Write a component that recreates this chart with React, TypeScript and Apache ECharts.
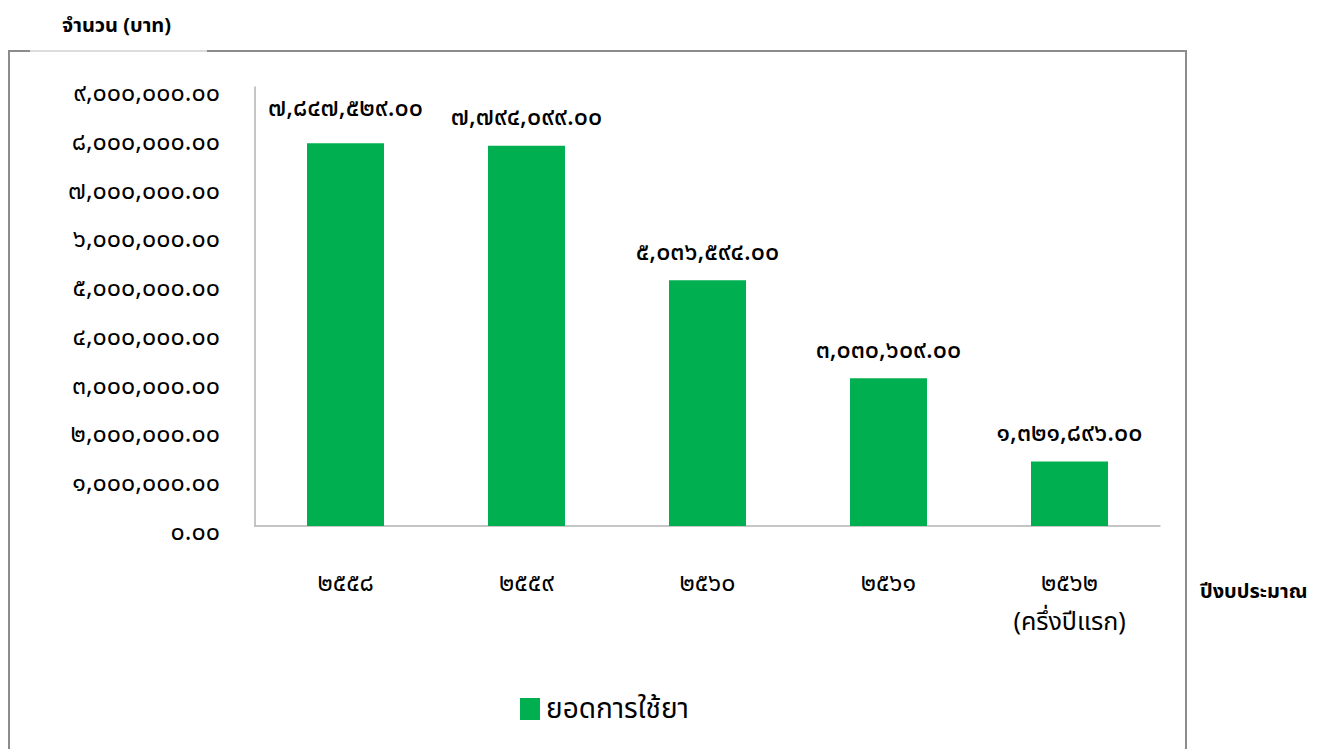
import React, { useEffect, useRef } from "react";
import * as echarts from "echarts";

const categories = ["๒๕๕๘", "๒๕๕๙", "๒๕๖๐", "๒๕๖๑", "๒๕๖๒\n(ครึ่งปีแรก)"];
const usageValues = [7847529, 7794099, 5036594, 3030609, 1321896];
const seriesName = "ยอดการใช้ยา";
const yTitle = "จำนวน (บาท)";
const xTitle = "ปีงบประมาณ";
const yMin = 0;
const yMax = 9000000;
const yStep = 1000000;

const THAI_DIGITS = "๐๑๒๓๔๕๖๗๘๙";
function toThai(s: string): string {
  return s.replace(/[0-9]/g, (d) => THAI_DIGITS[Number(d)]);
}
function fmt(v: number): string {
  const s = v.toLocaleString("en-US", { minimumFractionDigits: 2, maximumFractionDigits: 2 });
  return toThai(s);
}

const FONT = "Tahoma, 'Noto Sans Thai', 'Noto Sans', 'DejaVu Sans', sans-serif";

export default function App() {
  const ref = useRef<HTMLDivElement>(null);
  useEffect(() => {
    document.body.style.margin = "0";
    if (!ref.current) return;
    const chart = echarts.init(ref.current, undefined, { renderer: "svg" });
    chart.setOption({
      animation: false,
      backgroundColor: "#ffffff",
      grid: { left: 255, top: 87, right: 165, bottom: 223, containLabel: false },
      legend: {
        left: 515,
        top: 690,
        itemWidth: 20,
        itemHeight: 22,
        itemGap: 10,
        icon: "rect",
        textStyle: { fontSize: 28, fontFamily: FONT, color: "#000", padding: [0, 0, 0, 1] },
        data: [seriesName],
      },
      xAxis: {
        type: "category",
        data: categories,
        axisLine: { lineStyle: { color: "#b3b3b3", width: 1.5 } },
        axisTick: { show: false },
        axisLabel: {
          margin: 37,
          fontSize: 25,
          lineHeight: 39,
          fontFamily: FONT,
          color: "#000",
          verticalAlign: "top",
        },
      },
      yAxis: {
        type: "value",
        min: yMin,
        max: yMax,
        interval: yStep,
        splitLine: { show: false },
        axisLine: { show: true, lineStyle: { color: "#b3b3b3", width: 1.5 } },
        axisTick: { show: false },
        axisLabel: {
          margin: 35,
          fontSize: 25,
          fontFamily: FONT,
          color: "#000",
          verticalAlign: "top",
          lineHeight: 12,
          formatter: (v: number) => fmt(v),
        },
      },
      series: [
        {
          name: seriesName,
          type: "bar",
          barWidth: 77,
          itemStyle: { color: "#00b050" },
          data: usageValues.map((v, i) =>
            i === 0 ? { value: v, label: { offset: [0, -7] } } : v
          ),
          label: {
            show: true,
            position: "top",
            distance: 16,
            fontSize: 25,
            fontWeight: 500,
            fontFamily: FONT,
            color: "#000",
            formatter: (p: any) => fmt(p.value),
          },
        },
      ],
      graphic: [
        {
          type: "rect",
          shape: { x: 9, y: 51, width: 1177, height: 760 },
          style: { fill: "none", stroke: "#8c8c8c", lineWidth: 2 },
          silent: true,
        },
        {
          type: "line",
          shape: { x1: 30, y1: 51, x2: 207, y2: 51 },
          style: { stroke: "#dcdcdc", lineWidth: 2 },
          silent: true,
        },
        {
          type: "text",
          x: 62,
          y: 26,
          style: {
            text: yTitle,
            font: `bold 20px ${FONT}`,
            fill: "#000",
            textVerticalAlign: "middle",
          },
        },
        {
          type: "text",
          x: 1200,
          y: 592,
          style: {
            text: xTitle,
            font: `bold 20px ${FONT}`,
            fill: "#000",
            textVerticalAlign: "middle",
          },
        },
      ],
    });
    return () => chart.dispose();
  }, []);
  return <div ref={ref} style={{ width: 1325, height: 749 }} />;
}
